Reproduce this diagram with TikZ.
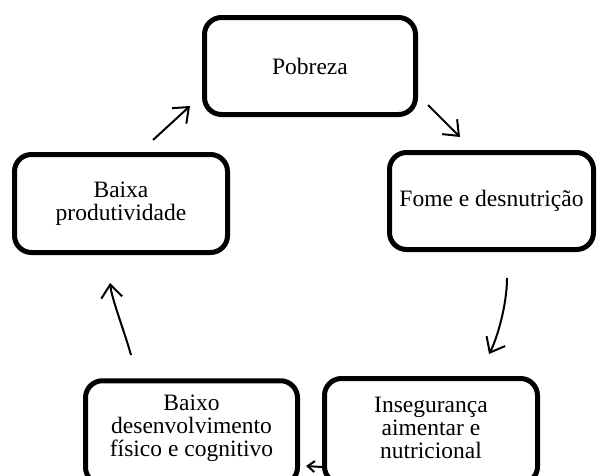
\documentclass[tikz,border=0pt]{standalone}
\usepackage{fontspec}
\setmainfont{Liberation Serif}
\usetikzlibrary{arrows.meta}
\begin{document}
\begin{tikzpicture}[x=1pt,y=-1pt,
  cyclebox/.style={draw=black, line width=5pt, rounded corners=17pt, inner sep=0pt,
    align=center, font=\fontsize{23.5}{23}\selectfont},
  cycletext/.style={inner sep=0pt, align=center, font=\fontsize{23.5}{23}\selectfont},
  flow/.style={line width=2pt, -{Straight Barb[length=13pt,width=21pt,line width=2pt]}},
  smallflow/.style={line width=2pt, -{Straight Barb[length=7pt,width=11pt,line width=2pt]}}]
\useasboundingbox (0,0) rectangle (597,475);
\node[cyclebox, minimum width=211pt, minimum height=97pt] (pob) at (310,66) {Pobreza};
\node[cyclebox, minimum width=204pt, minimum height=97pt] (fome) at (491.5,201) {Fome e desnutrição};
\node[cyclebox, minimum width=213pt, minimum height=98pt] (baixa) at (121,203.5) {Baixa\\produtividade};
\node[cyclebox, minimum width=212pt, minimum height=103.5pt] (desenv) at (191.5,432.5) {};
\node[cycletext] (desenvtext) at (191.5,428) {Baixo\\desenvolvimento\\físico e cognitivo};
\node[cyclebox, minimum width=213pt, minimum height=105pt] (inseg) at (431,431) {};
\node[cycletext] (insegtext) at (431,427.5) {Insegurança\\aimentar e\\nutricional};
\coordinate (a1s) at (153,140);
\coordinate (a1e) at (190,106);
\coordinate (a2s) at (428,105);
\coordinate (a2e) at (460,137);
\coordinate (a3s) at (507,278);
\coordinate (a3e) at (489,354);
\coordinate (a4s) at (322,467);
\coordinate (a4e) at (306,466);
\coordinate (a5s) at (131,355);
\coordinate (a5e) at (110,283);
\draw[flow] (a1s) -- (a1e);
\draw[flow] (a2s) -- (a2e);
\draw[flow] (a3s) .. controls (507,305) and (497,339) .. (a3e);
\draw[smallflow] (a4s) -- (a4e);
\draw[flow] (a5s) .. controls (124,330) and (112,300) .. (a5e);
\end{tikzpicture}
\end{document}
